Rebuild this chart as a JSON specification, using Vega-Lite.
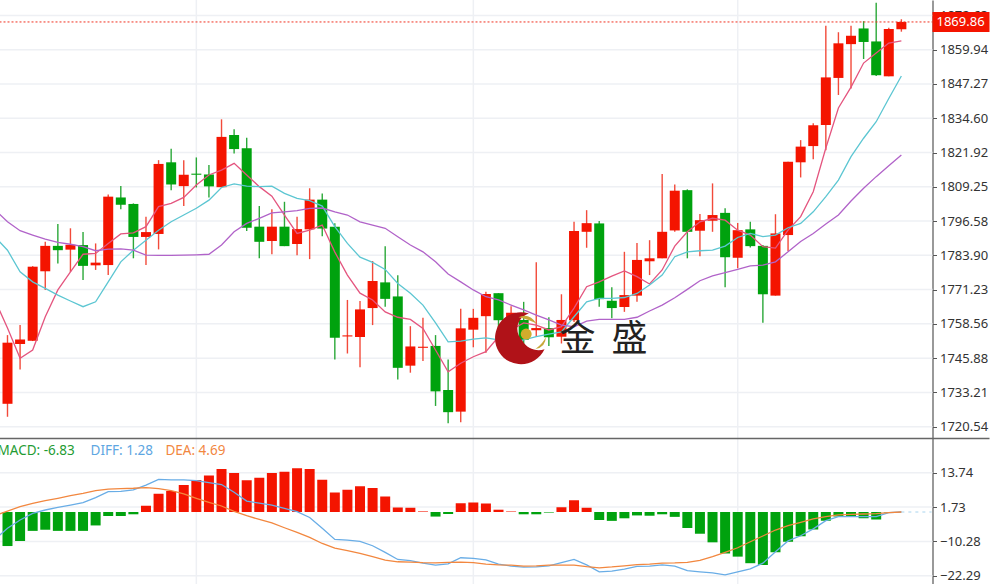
{"$schema":"https://vega.github.io/schema/vega-lite/v6.json","padding":{"left":-1.5,"top":-1,"right":0,"bottom":0},"spacing":0,"bounds":"flush","background":"white","config":{"view":{"stroke":null},"concat":{"spacing":0}},
"datasets":{
"candles":[
{"i":0,"o":1729.0,"c":1751.6,"h":1754.4,"l":1724.2},{"i":1,"o":1751.1,"c":1752.8,"h":1758.1,"l":1741.7},{"i":2,"o":1752.3,"c":1779.7,"h":1779.9,"l":1752.2},{"i":3,"o":1778.0,"c":1787.4,"h":1788.9,"l":1771.1},{"i":4,"o":1787.4,"c":1785.8,"h":1795.5,"l":1780.9},{"i":5,"o":1786.0,"c":1787.8,"h":1793.9,"l":1777.7},{"i":6,"o":1787.7,"c":1780.0,"h":1792.5,"l":1774.8},{"i":7,"o":1780.2,"c":1781.2,"h":1788.3,"l":1778.5},{"i":8,"o":1780.3,"c":1805.6,"h":1806.4,"l":1776.6},{"i":9,"o":1805.3,"c":1802.6,"h":1809.5,"l":1800.9},{"i":10,"o":1802.9,"c":1790.7,"h":1803.1,"l":1782.8},{"i":11,"o":1790.7,"c":1792.5,"h":1798.2,"l":1780.3},{"i":12,"o":1791.8,"c":1817.7,"h":1819.1,"l":1786.1},{"i":13,"o":1818.3,"c":1810.1,"h":1823.3,"l":1808.0},{"i":14,"o":1809.5,"c":1813.7,"h":1819.1,"l":1802.1},{"i":15,"o":1814.1,"c":1813.7,"h":1820.1,"l":1809.0},{"i":16,"o":1813.8,"c":1809.4,"h":1817.3,"l":1805.3},{"i":17,"o":1809.1,"c":1827.7,"h":1834.2,"l":1809.0},{"i":18,"o":1828.4,"c":1823.2,"h":1830.5,"l":1821.6},{"i":19,"o":1823.5,"c":1794.1,"h":1827.4,"l":1792.9},{"i":20,"o":1794.5,"c":1788.9,"h":1802.1,"l":1782.8},{"i":21,"o":1789.2,"c":1794.5,"h":1800.9,"l":1784.3},{"i":22,"o":1794.5,"c":1787.3,"h":1803.7,"l":1787.3},{"i":23,"o":1788.1,"c":1793.6,"h":1798.2,"l":1783.9},{"i":24,"o":1793.5,"c":1804.5,"h":1808.7,"l":1782.5},{"i":25,"o":1804.5,"c":1793.8,"h":1806.8,"l":1791.0},{"i":26,"o":1794.5,"c":1753.4,"h":1795.8,"l":1745.4},{"i":27,"o":1753.9,"c":1754.3,"h":1767.4,"l":1747.6},{"i":28,"o":1753.7,"c":1763.9,"h":1767.0,"l":1742.5},{"i":29,"o":1764.4,"c":1774.4,"h":1781.8,"l":1758.1},{"i":30,"o":1773.9,"c":1767.8,"h":1787.3,"l":1764.9},{"i":31,"o":1768.7,"c":1742.3,"h":1776.5,"l":1738.0},{"i":32,"o":1743.1,"c":1750.2,"h":1757.7,"l":1740.5},{"i":33,"o":1749.7,"c":1750.1,"h":1760.8,"l":1744.8},{"i":34,"o":1750.4,"c":1733.6,"h":1754.4,"l":1728.2},{"i":35,"o":1734.1,"c":1725.9,"h":1745.4,"l":1721.8},{"i":36,"o":1726.1,"c":1756.9,"h":1764.1,"l":1722.2},{"i":37,"o":1756.4,"c":1760.8,"h":1764.1,"l":1749.9},{"i":38,"o":1761.4,"c":1769.6,"h":1770.4,"l":1747.9},{"i":39,"o":1769.9,"c":1759.9,"h":1769.9,"l":1756.3},{"i":40,"o":1756.3,"c":1762.7,"h":1765.1,"l":1752.6},{"i":41,"o":1760.0,"c":1752.6,"h":1766.7,"l":1750.7},{"i":42,"o":1756.2,"c":1757.0,"h":1781.3,"l":1753.8},{"i":43,"o":1757.0,"c":1753.6,"h":1761.0,"l":1750.4},{"i":44,"o":1753.8,"c":1760.0,"h":1769.5,"l":1751.3},{"i":45,"o":1759.9,"c":1792.9,"h":1796.3,"l":1759.2},{"i":46,"o":1792.6,"c":1795.8,"h":1800.6,"l":1786.7},{"i":47,"o":1795.7,"c":1767.7,"h":1796.6,"l":1764.9},{"i":48,"o":1767.1,"c":1764.4,"h":1772.1,"l":1760.6},{"i":49,"o":1764.8,"c":1769.2,"h":1785.2,"l":1763.0},{"i":50,"o":1769.0,"c":1782.2,"h":1788.5,"l":1766.7},{"i":51,"o":1781.7,"c":1782.8,"h":1789.5,"l":1776.6},{"i":52,"o":1782.8,"c":1792.6,"h":1814.0,"l":1782.8},{"i":53,"o":1793.1,"c":1807.8,"h":1810.1,"l":1792.6},{"i":54,"o":1808.0,"c":1792.6,"h":1808.3,"l":1782.8},{"i":55,"o":1793.0,"c":1796.9,"h":1799.2,"l":1783.6},{"i":56,"o":1796.7,"c":1798.8,"h":1810.5,"l":1792.6},{"i":57,"o":1799.6,"c":1783.2,"h":1801.3,"l":1772.1},{"i":58,"o":1783.0,"c":1793.2,"h":1795.9,"l":1779.1},{"i":59,"o":1793.5,"c":1787.3,"h":1796.3,"l":1786.8},{"i":60,"o":1787.4,"c":1769.5,"h":1787.7,"l":1759.0},{"i":61,"o":1769.0,"c":1792.0,"h":1799.1,"l":1769.0},{"i":62,"o":1791.4,"c":1818.5,"h":1818.5,"l":1785.5},{"i":63,"o":1818.3,"c":1824.1,"h":1826.5,"l":1812.7},{"i":64,"o":1824.3,"c":1832.0,"h":1832.7,"l":1819.4},{"i":65,"o":1832.1,"c":1849.7,"h":1868.8,"l":1822.8},{"i":66,"o":1849.5,"c":1862.3,"h":1866.4,"l":1843.2},{"i":67,"o":1862.0,"c":1865.1,"h":1868.8,"l":1845.6},{"i":68,"o":1867.8,"c":1862.8,"h":1870.5,"l":1856.5},{"i":69,"o":1863.0,"c":1850.5,"h":1877.3,"l":1850.2},{"i":70,"o":1850.1,"c":1867.6,"h":1868.1,"l":1850.1},{"i":71,"o":1867.5,"c":1870.2,"h":1871.2,"l":1866.6}],
"ma":[
{"i":-1,"a":1767.4,"b":1790.7,"e":1800.8},{"i":0,"a":1757.0,"b":1785.8,"e":1796.3},{"i":1,"a":1745.8,"b":1777.8,"e":1793.0},{"i":2,"a":1748.9,"b":1774.1,"e":1791.4},{"i":3,"a":1761.2,"b":1771.7,"e":1789.9},{"i":4,"a":1771.1,"b":1769.2,"e":1788.7},{"i":5,"a":1777.8,"b":1767.0,"e":1788.0},{"i":6,"a":1784.3,"b":1764.9,"e":1787.1},{"i":7,"a":1784.6,"b":1766.7,"e":1785.6},{"i":8,"a":1788.3,"b":1774.1,"e":1786.2},{"i":9,"a":1791.8,"b":1781.5,"e":1786.3},{"i":10,"a":1792.2,"b":1785.8,"e":1785.8},{"i":11,"a":1794.5,"b":1789.5,"e":1784.0},{"i":12,"a":1801.9,"b":1793.2,"e":1783.9},{"i":13,"a":1803.1,"b":1796.3,"e":1783.9},{"i":14,"a":1805.3,"b":1798.8,"e":1784.0},{"i":15,"a":1809.9,"b":1801.3,"e":1784.1},{"i":16,"a":1813.6,"b":1804.3,"e":1784.3},{"i":17,"a":1815.4,"b":1809.0,"e":1787.7},{"i":18,"a":1817.9,"b":1810.3,"e":1792.6},{"i":19,"a":1813.6,"b":1809.5,"e":1795.7},{"i":20,"a":1809.3,"b":1809.3,"e":1797.6},{"i":21,"a":1805.8,"b":1809.5,"e":1799.6},{"i":22,"a":1798.8,"b":1806.8,"e":1800.0},{"i":23,"a":1792.0,"b":1805.0,"e":1800.4},{"i":24,"a":1793.2,"b":1804.1,"e":1801.3},{"i":25,"a":1795.1,"b":1802.1,"e":1801.4},{"i":26,"a":1785.1,"b":1794.5,"e":1800.0},{"i":27,"a":1776.6,"b":1788.3,"e":1798.8},{"i":28,"a":1769.9,"b":1783.2,"e":1796.3},{"i":29,"a":1767.4,"b":1781.3,"e":1795.1},{"i":30,"a":1763.0,"b":1778.7,"e":1793.9},{"i":31,"a":1761.0,"b":1773.5,"e":1790.8},{"i":32,"a":1760.2,"b":1769.9,"e":1787.7},{"i":33,"a":1756.9,"b":1765.5,"e":1785.2},{"i":34,"a":1748.9,"b":1758.9,"e":1781.5},{"i":35,"a":1740.8,"b":1751.9,"e":1777.0},{"i":36,"a":1744.0,"b":1752.2,"e":1774.1},{"i":37,"a":1746.4,"b":1752.9,"e":1771.1},{"i":38,"a":1748.3,"b":1753.4,"e":1768.6},{"i":39,"a":1753.8,"b":1752.6,"e":1767.4},{"i":40,"a":1756.3,"b":1751.5,"e":1765.5},{"i":41,"a":1758.9,"b":1752.6,"e":1763.7},{"i":42,"a":1758.1,"b":1753.8,"e":1761.8},{"i":43,"a":1756.3,"b":1754.8,"e":1760.0},{"i":44,"a":1757.5,"b":1755.6,"e":1758.1},{"i":45,"a":1764.4,"b":1761.2,"e":1757.5},{"i":46,"a":1772.3,"b":1766.7,"e":1759.6},{"i":47,"a":1774.1,"b":1768.0,"e":1760.2},{"i":48,"a":1776.2,"b":1768.0,"e":1760.2},{"i":49,"a":1778.1,"b":1768.3,"e":1760.2},{"i":50,"a":1776.0,"b":1769.8,"e":1761.0},{"i":51,"a":1773.3,"b":1772.9,"e":1763.3},{"i":52,"a":1778.5,"b":1776.6,"e":1765.5},{"i":53,"a":1787.3,"b":1783.4,"e":1768.2},{"i":54,"a":1792.6,"b":1785.2,"e":1771.3},{"i":55,"a":1796.3,"b":1785.6,"e":1774.5},{"i":56,"a":1797.6,"b":1785.8,"e":1776.3},{"i":57,"a":1796.9,"b":1787.3,"e":1777.5},{"i":58,"a":1793.2,"b":1790.5,"e":1778.7},{"i":59,"a":1791.4,"b":1792.0,"e":1780.0},{"i":60,"a":1787.1,"b":1790.8,"e":1780.3},{"i":61,"a":1786.6,"b":1791.4,"e":1781.5},{"i":62,"a":1793.2,"b":1794.1,"e":1785.2},{"i":63,"a":1798.2,"b":1795.7,"e":1789.0},{"i":64,"a":1807.4,"b":1800.0,"e":1792.0},{"i":65,"a":1823.6,"b":1805.6,"e":1795.5},{"i":66,"a":1838.4,"b":1811.7,"e":1798.8},{"i":67,"a":1846.1,"b":1820.4,"e":1804.0},{"i":68,"a":1855.0,"b":1827.2,"e":1808.7},{"i":69,"a":1858.7,"b":1833.3,"e":1813.0},{"i":70,"a":1862.4,"b":1841.9,"e":1817.0},{"i":71,"a":1863.2,"b":1850.2,"e":1821.0}],
"macd":[
{"i":-1,"m":-15,"d":-9.5,"s":-1.2},{"i":0,"m":-11.9,"d":-5.7,"s":0.3},{"i":1,"m":-10.1,"d":-2.8,"s":1.9},{"i":2,"m":-6.6,"d":-0.5,"s":3.0},{"i":3,"m":-6.2,"d":0.7,"s":4.0},{"i":4,"m":-6.6,"d":1.6,"s":4.8},{"i":5,"m":-6.6,"d":2.4,"s":5.7},{"i":6,"m":-6.6,"d":3.3,"s":6.5},{"i":7,"m":-4.7,"d":5.0,"s":7.5},{"i":8,"m":-1.4,"d":7.1,"s":8.0},{"i":9,"m":-1.4,"d":7.2,"s":8.2},{"i":10,"m":-0.8,"d":7.7,"s":8.3},{"i":11,"m":2.2,"d":9.4,"s":8.5},{"i":12,"m":6.4,"d":11.4,"s":8.2},{"i":13,"m":7.3,"d":11.2,"s":7.5},{"i":14,"m":9.4,"d":11.2,"s":6.3},{"i":15,"m":11.2,"d":11.0,"s":4.8},{"i":16,"m":12.8,"d":10.3,"s":3.4},{"i":17,"m":15.0,"d":9.6,"s":2.1},{"i":18,"m":13.6,"d":6.9,"s":0.2},{"i":19,"m":11.1,"d":3.8,"s":-1.3},{"i":20,"m":12.0,"d":3.1,"s":-2.6},{"i":21,"m":13.6,"d":2.4,"s":-3.8},{"i":22,"m":14.1,"d":1.3,"s":-5.5},{"i":23,"m":15.3,"d":0.1,"s":-7.1},{"i":24,"m":15.0,"d":-1.9,"s":-8.9},{"i":25,"m":11.3,"d":-5.7,"s":-11.0},{"i":26,"m":6.8,"d":-9.6,"s":-12.6},{"i":27,"m":7.8,"d":-9.8,"s":-13.5},{"i":28,"m":9.0,"d":-10.3,"s":-14.5},{"i":29,"m":8.4,"d":-11.8,"s":-15.6},{"i":30,"m":5.4,"d":-14.1,"s":-16.8},{"i":31,"m":1.6,"d":-16.6,"s":-17.4},{"i":32,"m":1.5,"d":-17.0,"s":-17.5},{"i":33,"m":0.2,"d":-17.9,"s":-17.7},{"i":34,"m":-1.6,"d":-18.6,"s":-17.8},{"i":35,"m":-0.7,"d":-18.1,"s":-17.6},{"i":36,"m":3.1,"d":-16.0,"s":-17.5},{"i":37,"m":3.3,"d":-16.2,"s":-17.7},{"i":38,"m":3.0,"d":-16.7,"s":-18.2},{"i":39,"m":0.8,"d":-18.2,"s":-18.5},{"i":40,"m":0.2,"d":-18.9,"s":-18.6},{"i":41,"m":-0.8,"d":-19.3,"s":-18.9},{"i":42,"m":-0.8,"d":-19.2,"s":-18.8},{"i":43,"m":-0.2,"d":-18.8,"s":-18.6},{"i":44,"m":1.7,"d":-17.7,"s":-18.6},{"i":45,"m":4.1,"d":-16.6,"s":-18.6},{"i":46,"m":1.5,"d":-18.5,"s":-19.1},{"i":47,"m":-2.8,"d":-20.9,"s":-19.5},{"i":48,"m":-3.1,"d":-20.7,"s":-19.2},{"i":49,"m":-2.2,"d":-20.0,"s":-18.8},{"i":50,"m":-1.2,"d":-19.0,"s":-18.4},{"i":51,"m":-1.3,"d":-18.9,"s":-18.2},{"i":52,"m":-0.8,"d":-18.5,"s":-17.9},{"i":53,"m":-1.7,"d":-18.9,"s":-17.8},{"i":54,"m":-5.6,"d":-20.5,"s":-17.6},{"i":55,"m":-7.6,"d":-20.9,"s":-16.9},{"i":56,"m":-10.6,"d":-21.3,"s":-15.6},{"i":57,"m":-14.5,"d":-22.0,"s":-14.1},{"i":58,"m":-15.6,"d":-20.9,"s":-12.5},{"i":59,"m":-17.9,"d":-19.9,"s":-10.4},{"i":60,"m":-18.5,"d":-17.9,"s":-8.4},{"i":61,"m":-14.1,"d":-13.9,"s":-6.3},{"i":62,"m":-10.4,"d":-10.1,"s":-4.8},{"i":63,"m":-8.5,"d":-8.3,"s":-3.6},{"i":64,"m":-6.1,"d":-5.9,"s":-2.4},{"i":65,"m":-3.1,"d":-3.0,"s":-1.6},{"i":66,"m":-1.6,"d":-1.6,"s":-1.0},{"i":67,"m":-1.6,"d":-1.6,"s":-0.8},{"i":68,"m":-2.2,"d":-1.6,"s":-0.7},{"i":69,"m":-2.6,"d":-1.6,"s":-0.6},{"i":70,"m":-0.2,"d":-0.2,"s":-0.2},{"i":71,"m":0.0,"d":0.0,"s":0.0}]
},
"vconcat":[
{"width":990,"height":438,"layer":[
{"data":{"values":[{"p":1872.63},{"p":1859.94},{"p":1847.27},{"p":1834.60},{"p":1821.92},{"p":1809.25},{"p":1796.58},{"p":1783.90},{"p":1771.23},{"p":1758.56},{"p":1745.88},{"p":1733.21},{"p":1720.54}]},"mark":{"type":"rule","color":"#eef0f4","strokeWidth":1.5},
"encoding":{"x":{"datum":-0.635,"type":"quantitative","scale":{"domain":[-0.635,78.0],"nice":false,"zero":false,"padding":0},"axis":null},"x2":{"datum":73.47},"y":{"field":"p","type":"quantitative","title":null,"scale":{"domain":[1716.35,1878.32],"nice":false,"zero":false},"axis":{"orient":"right","offset":-57,"grid":false,"title":null,"values":[1872.63,1859.94,1847.27,1834.60,1821.92,1809.25,1796.58,1783.90,1771.23,1758.56,1745.88,1733.21,1720.54],"tickCount":13,"format":".2f","labelFont":"Noto Sans","labelFontSize":13,"labelColor":"#333333","labelPadding":3,"labelFlush":false,"labelOverlap":false,"tickSize":4,"tickColor":"#555555","domainColor":"#555555","domainWidth":1.2}}}},
{"data":{"values":[{"i":15},{"i":37},{"i":58}]},"mark":{"type":"rule","color":"#eef0f4","strokeWidth":1.5},"encoding":{"x":{"field":"i","type":"quantitative"}}},
{"data":{"name":"candles"},"mark":{"type":"rule","strokeWidth":1.4},"encoding":{"x":{"field":"i","type":"quantitative"},"y":{"field":"h","type":"quantitative"},"y2":{"field":"l"},"color":{"condition":{"test":"datum.c>=datum.o","value":"#f24a3a"},"value":"#2aa838"}}},
{"data":{"name":"candles"},"mark":{"type":"bar","size":10,"orient":"vertical"},"encoding":{"x":{"field":"i","type":"quantitative"},"y":{"field":"o","type":"quantitative","stack":null},"y2":{"field":"c"},"color":{"condition":{"test":"datum.c>=datum.o","value":"#f41400"},"value":"#00a20e"}}},
{"data":{"name":"ma"},"mark":{"type":"line","color":"#e4557f","strokeWidth":1.3,"clip":true},"encoding":{"x":{"field":"i","type":"quantitative"},"y":{"field":"a","type":"quantitative"}}},
{"data":{"name":"ma"},"mark":{"type":"line","color":"#5cc6d2","strokeWidth":1.3,"clip":true},"encoding":{"x":{"field":"i","type":"quantitative"},"y":{"field":"b","type":"quantitative"}}},
{"data":{"name":"ma"},"mark":{"type":"line","color":"#b163c9","strokeWidth":1.3,"clip":true},"encoding":{"x":{"field":"i","type":"quantitative"},"y":{"field":"e","type":"quantitative"}}},
{"data":{"values":[{"p":1870.2}]},"mark":{"type":"rule","color":"#f03020","strokeWidth":1,"strokeDash":[2,2]},"encoding":{"x":{"datum":-0.635,"type":"quantitative"},"x2":{"datum":73.47},"y":{"field":"p","type":"quantitative"}}},
{"data":{"values":[{"a":73.47,"b":78.0,"t":1873.9,"u":1866.5}]},"mark":{"type":"rect","color":"#f41400"},"encoding":{"x":{"field":"a","type":"quantitative"},"x2":{"field":"b"},"y":{"field":"t","type":"quantitative"},"y2":{"field":"u"}}},
{"data":{"values":[{"i":75.7,"p":1870.2,"t":"1869.86"}]},"mark":{"type":"text","color":"white","font":"Noto Sans","fontSize":13,"align":"center","baseline":"middle"},"encoding":{"x":{"field":"i","type":"quantitative"},"y":{"field":"p","type":"quantitative"},"text":{"field":"t"}}},
{"data":{"values":[{"i":40.8,"p":1753.3}]},"mark":{"type":"point","filled":true,"opacity":1,"size":2704,"color":"#b01218","shape":"M0.3 -0.95 A1 1 0 1 0 0.9 0.43 A0.72 0.72 0 0 1 0.05 0.1 A0.62 0.62 0 0 1 0.3 -0.95 Z"},"encoding":{"x":{"field":"i","type":"quantitative"},"y":{"field":"p","type":"quantitative"}}},
{"data":{"values":[{"i":40.8,"p":1753.3}]},"mark":{"type":"point","filled":true,"opacity":1,"size":2704,"color":"#c8a83a","shape":"M-0.1 -0.8 Q0.3 -1 0.6 -0.55 Q0.3 -0.72 -0.1 -0.8 Z M0.55 0.42 Q0.95 0.35 0.95 -0.05 Q0.85 0.2 0.55 0.42 Z"},"encoding":{"x":{"field":"i","type":"quantitative"},"y":{"field":"p","type":"quantitative"}}},
{"data":{"values":[{"i":41.2,"p":1754.8}]},"mark":{"type":"point","filled":true,"opacity":1,"size":120,"shape":"circle","color":"#d2ac2c"},"encoding":{"x":{"field":"i","type":"quantitative"},"y":{"field":"p","type":"quantitative"}}},
{"data":{"values":[{"i":45.27,"p":1752.7,"t":"金"},{"i":49.4,"p":1752.7,"t":"盛"}]},"mark":{"type":"text","color":"#222222","font":"Noto Sans CJK SC","fontSize":36,"align":"center","baseline":"middle"},"encoding":{"x":{"field":"i","type":"quantitative"},"y":{"field":"p","type":"quantitative"},"text":{"field":"t"}}}
]},
{"width":990,"height":146,"layer":[
{"data":{"values":[{"p":13.74},{"p":1.73},{"p":-10.28},{"p":-22.29}]},"mark":{"type":"rule","color":"#eef0f4","strokeWidth":1.5},
"encoding":{"x":{"datum":-0.635,"type":"quantitative","scale":{"domain":[-0.635,78.0],"nice":false,"zero":false,"padding":0},"axis":null},"x2":{"datum":73.47},"y":{"field":"p","type":"quantitative","title":null,"scale":{"domain":[-25.17,25.87],"nice":false,"zero":false},"axis":{"orient":"right","offset":-57,"grid":false,"title":null,"values":[13.74,1.73,-10.28,-22.29],"format":".2f","labelFont":"Noto Sans","labelFontSize":13,"labelColor":"#333333","labelPadding":3,"labelFlush":false,"labelOverlap":false,"tickSize":4,"tickColor":"#555555","domainColor":"#555555","domainWidth":1.2}}}},
{"data":{"values":[{"i":15},{"i":37},{"i":58}]},"mark":{"type":"rule","color":"#eef0f4","strokeWidth":1.5},"encoding":{"x":{"field":"i","type":"quantitative"}}},
{"data":{"name":"macd"},"mark":{"type":"bar","size":10,"orient":"vertical","clip":true},"encoding":{"x":{"field":"i","type":"quantitative"},"y":{"field":"m","type":"quantitative","stack":null},"y2":{"datum":0},"color":{"condition":{"test":"datum.m>=0","value":"#f41400"},"value":"#00a20e"}}},
{"data":{"values":[{"a":71,"b":73.4,"p":0}]},"mark":{"type":"rule","color":"#a8d4ee","strokeWidth":1,"strokeDash":[3,4]},"encoding":{"x":{"field":"a","type":"quantitative"},"x2":{"field":"b"},"y":{"field":"p","type":"quantitative"}}},
{"data":{"name":"macd"},"mark":{"type":"line","color":"#69ade6","strokeWidth":1.3,"clip":true},"encoding":{"x":{"field":"i","type":"quantitative"},"y":{"field":"d","type":"quantitative"}}},
{"data":{"name":"macd"},"mark":{"type":"line","color":"#f2873f","strokeWidth":1.3,"clip":true},"encoding":{"x":{"field":"i","type":"quantitative"},"y":{"field":"s","type":"quantitative"}}},
{"data":{"values":[{"i":-0.79,"p":21.3,"t":"MACD: -6.83","c":"#1f9c33"},{"i":6.6,"p":21.3,"t":"DIFF: 1.28","c":"#5ea6e2"},{"i":12.55,"p":21.3,"t":"DEA: 4.69","c":"#f2873f"}]},"mark":{"type":"text","font":"Noto Sans","fontSize":13.5,"align":"left","baseline":"middle","clip":true},"encoding":{"x":{"field":"i","type":"quantitative"},"y":{"field":"p","type":"quantitative"},"text":{"field":"t"},"color":{"field":"c","type":"nominal","scale":null}}},
{"data":{"values":[{"p":25.7}]},"mark":{"type":"rule","color":"#666666","strokeWidth":1.4},"encoding":{"y":{"field":"p","type":"quantitative"}}}
]}
]}
